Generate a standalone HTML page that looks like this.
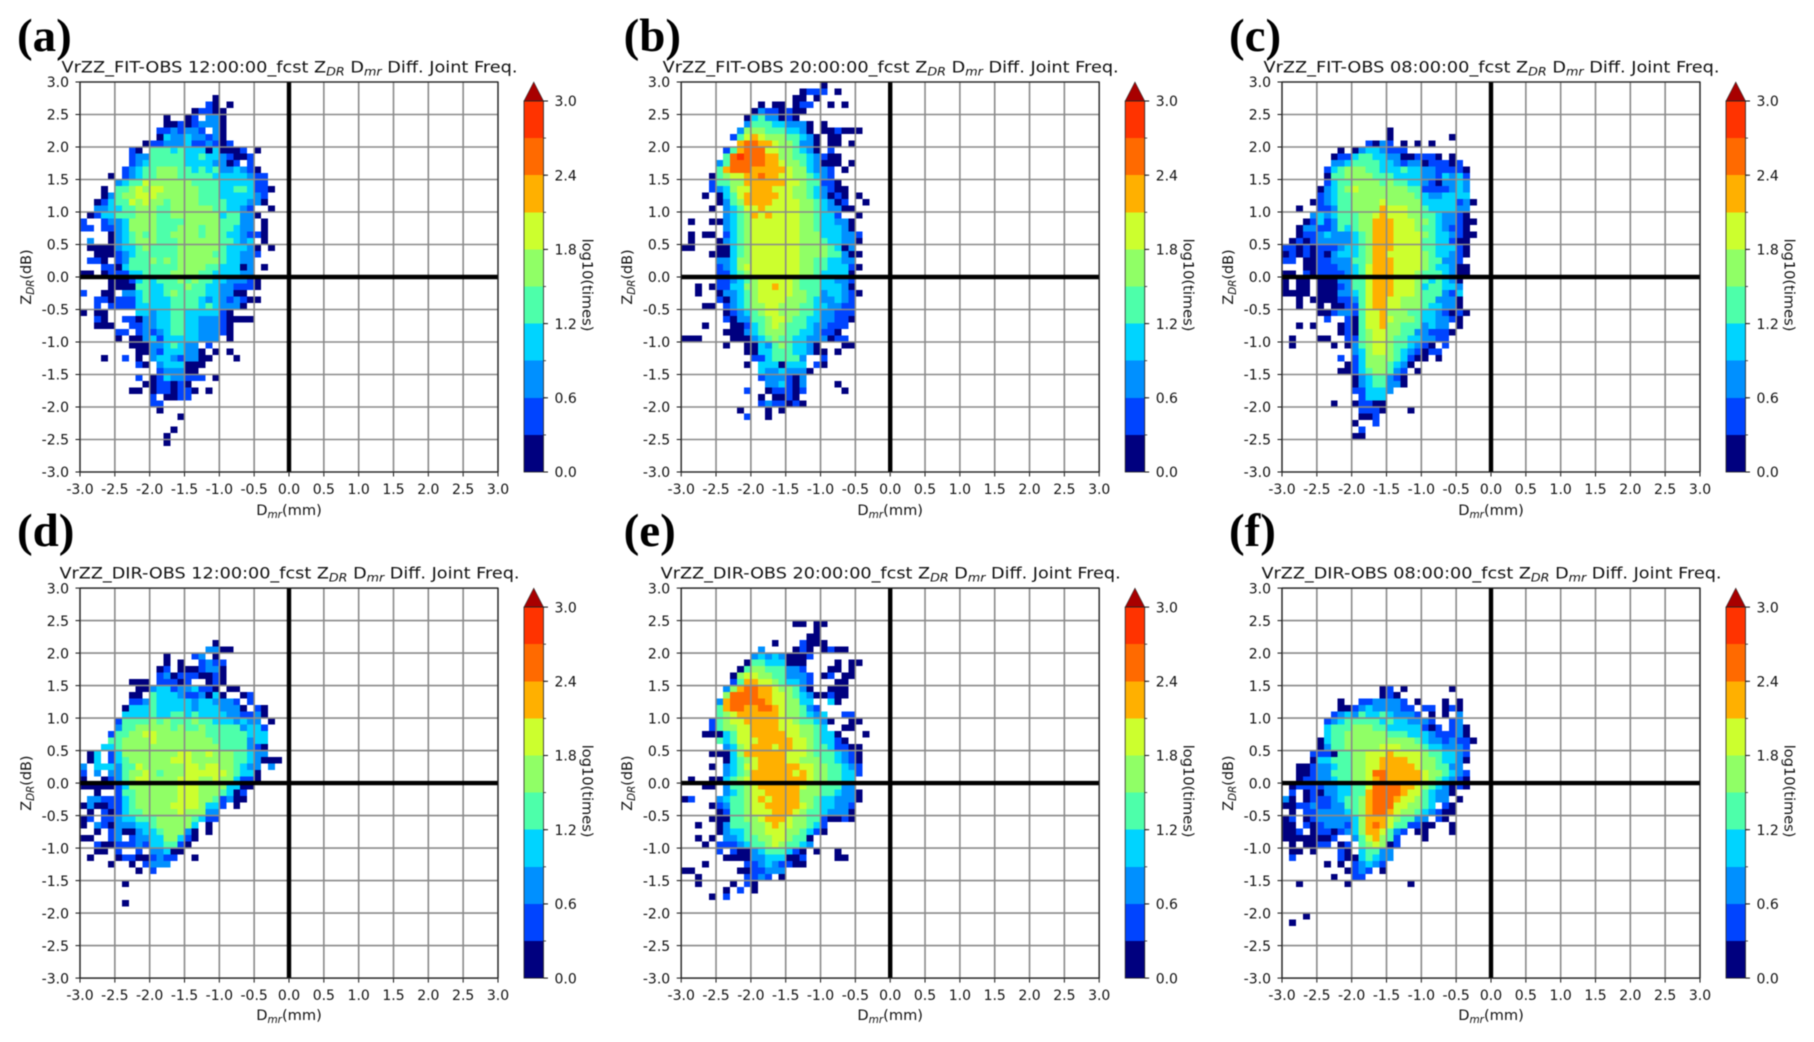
<!DOCTYPE html>
<html lang="en">
<head>
<meta charset="utf-8">
<title>ZDR Dmr Diff. Joint Freq.</title>
<style>
html,body{margin:0;padding:0;background:#fff;width:1814px;height:1042px;overflow:hidden}
svg{display:block;filter:blur(0.6px)}
text{font-family:"DejaVu Sans","Liberation Sans",sans-serif;fill:#111}
.letter{font-family:"Liberation Serif",serif;font-weight:bold;fill:#000}
</style>
</head>
<body>
<svg id="fig" xmlns="http://www.w3.org/2000/svg" width="1814" height="1042" viewBox="0 0 1814 1042"></svg>
<script>
// Axis and colourbar data
const xTickLabels = ["-3.0","-2.5","-2.0","-1.5","-1.0","-0.5","0.0","0.5","1.0","1.5","2.0","2.5","3.0"];
const yTickLabels = ["3.0","2.5","2.0","1.5","1.0","0.5","0.0","-0.5","-1.0","-1.5","-2.0","-2.5","-3.0"];
const colorTickLabels = ["0.0","0.6","1.2","1.8","2.4","3.0"];
const colorBounds = [0,0.3,0.6,0.9,1.2,1.5,1.8,2.1,2.4,2.7,3.0];
const colorBands = ["#00007f","#0044ff","#0090ff","#00d4ff","#4dffaa","#90ff66","#ccff2e","#ffb000","#ff6a00","#ff3300"];
const panelLetters = ["(a)","(b)","(c)","(d)","(e)","(f)"];
const panelModels = ["FIT","FIT","FIT","DIR","DIR","DIR"];
const panelTimes = ["12:00:00","20:00:00","08:00:00","12:00:00","20:00:00","08:00:00"];

// Heatmap cells: rows run from ZDR +3.0 downward in 0.1 dB bins, columns from Dmr -3.0 rightward in 0.1 mm bins.
// Value = colour class: 0 no data, 1 = 0.0-0.3 log10(times) ... 10 = 2.7-3.0 log10(times).
const cellsA = [[],[],
[0,0,0,0,0,0,0,0,0,0,0,0,0,0,0,0,0,0,0,1],
[0,0,0,0,0,0,0,0,0,0,0,0,0,0,0,0,0,0,2,1,0,1],
[0,0,0,0,0,0,0,0,0,0,0,0,0,0,0,0,1,2,2,1,1],
[0,0,0,0,0,0,0,0,0,0,0,0,1,0,0,1,2,0,3,3,1],
[0,0,0,0,0,0,0,0,0,0,0,0,1,1,2,1,2,3,3,3,1],
[0,0,0,0,0,0,0,0,0,0,0,2,2,3,2,3,3,2,0,3,1],
[0,0,0,0,0,0,0,0,0,0,0,1,4,3,3,4,3,3,2,3,1],
[0,0,0,0,0,0,0,0,0,1,2,2,3,3,3,4,2,2,3,2,1,2],
[0,0,0,0,0,0,0,2,1,0,5,5,5,4,5,4,4,4,1,4,1,1,1,2,0,1],
[0,0,0,0,0,0,0,2,3,3,5,5,5,5,5,4,4,5,4,4,3,2,1,1,2],
[0,0,0,0,0,0,0,2,3,4,5,5,5,5,5,4,4,4,4,3,3,1,2,0,2],
[0,0,0,0,0,0,2,3,4,5,5,6,6,6,5,5,4,5,4,5,3,3,4,3,2,1],
[0,0,0,0,1,0,2,3,4,5,5,6,6,6,5,5,5,5,5,4,4,4,4,4,3,2,2],
[0,0,0,0,0,3,4,5,5,7,6,6,6,6,6,6,5,5,5,5,4,4,4,4,4,2,2],
[0,0,0,1,0,5,5,6,7,6,7,7,6,6,6,6,6,5,5,5,4,4,5,5,4,2,2,1],
[0,0,0,1,3,5,6,6,7,7,7,6,6,6,6,6,6,5,5,5,4,4,4,4,4,3,2],
[0,0,1,2,4,5,5,7,6,7,6,6,5,6,6,6,6,5,5,5,5,4,4,4,3,3,1],
[0,0,3,3,4,4,5,5,6,6,6,5,5,6,6,6,6,6,6,5,5,4,4,3,2,0,0,1],
[0,1,2,4,4,5,5,5,6,6,6,5,5,6,6,6,6,6,6,6,4,5,5,3,3,1],
[2,0,0,2,3,3,4,6,6,6,6,5,5,5,5,6,6,6,6,6,5,5,5,3,3,0,1],
[2,2,0,2,2,3,4,6,6,6,6,5,5,5,6,6,6,5,6,6,5,5,4,3,3,0,1],
[0,0,0,0,1,3,4,5,6,5,6,5,5,6,6,6,6,5,6,6,5,4,4,3,2,2,1],
[0,3,0,0,1,3,4,5,6,6,6,5,5,5,6,6,6,6,6,6,5,5,4,3,4,0,1],
[0,1,1,1,1,3,4,4,5,6,5,5,5,5,6,6,6,6,6,6,5,4,4,4,3,1,0,1],
[0,0,1,1,1,2,3,4,5,5,5,5,5,5,6,6,6,6,6,5,5,4,4,3,3,2],
[0,2,2,1,0,2,3,5,5,5,6,5,6,5,6,6,6,6,6,6,5,4,4,3,3],
[0,0,0,2,2,1,4,5,5,5,5,5,5,5,6,6,6,6,5,5,4,4,4,1,3,0,1],
[1,1,0,1,2,2,2,4,4,5,5,5,5,6,6,6,6,5,5,4,4,4,4,3,3],
[0,0,0,0,1,1,1,2,4,5,4,5,5,5,6,5,6,5,5,4,4,3,3,3,2,1],
[0,0,0,0,1,1,1,1,5,5,4,4,5,5,5,6,5,5,4,4,3,3,2,2,2,1],
[2,0,0,1,1,0,3,3,4,5,4,4,5,6,5,5,5,5,4,4,3,3,1,1],
[0,0,2,2,1,2,2,2,4,5,4,4,4,5,5,5,5,4,3,4,3,2,3,2,1,1],
[0,0,2,0,2,2,2,2,4,4,4,4,4,5,5,5,5,4,5,4,3,3,3,1],
[1,0,1,1,0,0,0,0,4,4,3,4,4,5,5,4,4,4,4,4,2,1],
[0,0,2,1,0,0,2,2,1,3,3,4,4,5,5,4,4,3,3,3,2,1,1,1,1],
[0,0,1,1,1,0,0,2,2,3,3,4,4,5,5,4,4,3,3,3,2,1],
[0,0,0,0,0,2,2,0,2,3,2,3,4,5,5,4,4,3,3,3,2,1],
[0,0,0,0,0,1,0,1,1,3,4,2,4,4,4,4,4,3,3,3,0,1],
[0,0,0,0,0,0,0,1,1,1,3,3,4,5,4,3,3,0,2],
[0,0,0,0,0,0,0,0,1,1,3,2,4,4,4,3,3,1,0,1,0,1],
[0,0,0,1,0,0,2,0,1,0,3,4,4,3,2,3,3,1,1,0,0,0,1],
[0,0,0,0,0,0,0,0,2,1,0,3,4,4,4,1,1,1],
[0,0,0,0,0,0,0,0,0,0,0,2,3,3,3,1,1],
[0,0,0,0,0,0,0,0,2,0,1,2,4,3,3,2,2,2,0,1],
[0,0,0,0,0,0,0,0,0,1,1,2,2,1,2,1],
[0,0,0,0,0,0,0,1,1,0,1,2,2,1,2,2,1,0,1],
[0,0,0,0,0,0,0,0,0,0,2,0,1,1,2,2],
[0,0,0,0,0,0,0,0,0,0,2,2],
[0,0,0,0,0,0,0,0,0,0,0,1],
[0,0,0,0,0,0,0,0,0,0,0,0,0,0,1],
[],
[0,0,0,0,0,0,0,0,0,0,0,0,0,1],
[0,0,0,0,0,0,0,0,0,0,0,0,1],
[0,0,0,0,0,0,0,0,0,0,0,0,1]];

const cellsB = [
[0,0,0,0,0,0,0,0,0,0,0,0,0,0,0,0,0,0,0,0,1],
[0,0,0,0,0,0,0,0,0,0,0,0,0,0,0,0,0,1,2,2,2,0,1],
[0,0,0,0,0,0,0,0,0,0,0,0,0,0,0,0,1,1,0,1],
[0,0,0,0,0,0,0,0,0,0,0,1,0,1,1,0,1,2,2,0,0,1,0,1],
[0,0,0,0,0,0,0,0,0,0,1,3,2,2,1,2,1,1],
[0,0,0,0,0,0,0,0,0,1,4,5,3,3,1,2,1],
[0,0,0,0,0,0,0,0,0,3,5,5,5,4,4,3,3,3,1,0,1],
[0,0,0,0,0,0,0,0,3,6,6,6,5,5,5,4,4,3,1,0,1,1,2,1,1,1],
[0,0,0,0,0,0,0,2,5,7,8,7,6,6,6,5,5,4,3,1,0,1,1],
[0,0,0,0,0,0,0,0,8,9,9,8,8,7,6,6,5,3,3,1,0,1,1,0,1],
[0,0,0,0,0,0,2,5,8,9,9,9,7,7,6,6,5,4,3,1,0,2],
[0,0,0,0,0,0,5,9,10,9,9,9,8,8,6,6,5,5,4,3,2,1,1],
[0,0,0,0,0,3,5,9,9,9,9,9,8,8,7,6,6,5,4,3,1,1,1,0,1],
[0,0,0,0,0,5,8,9,9,9,8,8,8,8,8,7,6,6,4,3,3,2,0,1],
[0,0,0,0,1,5,6,7,7,8,8,9,8,8,7,7,6,6,5,4,3,2],
[0,0,0,0,2,5,5,6,6,8,8,8,8,8,8,7,7,6,5,5,2,2,1],
[0,0,0,0,2,3,4,6,7,7,8,8,8,7,7,7,6,6,5,4,3,2,1,1],
[0,0,0,1,0,1,4,5,7,8,8,8,8,8,7,7,6,6,5,4,3,1,2,1,0,1],
[0,0,0,0,0,1,3,5,6,8,8,8,8,7,7,7,7,6,6,5,4,3,1,2,0,0,1],
[0,0,0,0,1,0,3,4,5,7,7,8,7,7,7,7,7,6,6,5,4,3,3,1,1],
[0,0,0,0,0,0,3,4,5,6,8,7,8,7,7,7,7,6,6,5,4,4,2,0,0,1],
[0,1,0,0,1,1,3,4,5,6,7,7,7,7,7,7,7,6,6,5,4,4,3,3,1],
[0,0,0,0,0,0,3,4,5,6,7,7,7,7,7,7,7,6,6,5,4,4,4,3,1],
[0,1,0,1,1,0,2,4,5,6,7,7,7,7,7,7,7,6,6,6,4,4,4,3,3,2],
[0,1,0,0,0,1,3,4,5,6,7,7,7,7,7,7,7,6,6,6,5,4,4,3,3,1],
[1,1,0,0,0,1,1,4,5,6,7,7,7,7,7,7,7,6,6,6,6,5,4,1,3],
[0,0,0,0,1,1,1,4,5,6,7,7,7,7,7,7,7,6,6,6,6,5,5,3,1,1],
[0,0,0,0,0,3,3,4,6,6,7,7,7,7,7,7,7,6,6,5,5,4,4,3,3],
[0,0,0,0,0,2,3,4,6,7,7,7,7,7,7,7,7,6,6,5,5,4,4,4,2,1],
[0,0,0,0,0,2,2,4,5,6,7,7,7,7,7,7,7,6,6,5,4,4,4,4,1],
[0,0,0,0,0,2,2,3,4,5,6,7,7,7,7,7,6,5,5,5,4,4,3,3,2],
[0,0,1,0,1,2,2,4,4,6,6,7,7,8,7,7,6,5,5,5,4,4,4,3,1],
[0,0,1,0,0,1,3,3,4,5,6,7,7,7,7,7,6,6,5,5,3,4,4,3,2,1],
[0,0,0,0,0,2,1,3,4,5,6,7,7,7,7,6,6,6,5,4,3,3,4,3,2],
[0,0,0,1,1,0,2,3,4,5,6,6,7,7,6,6,6,5,5,4,4,3,3,2,2],
[0,0,0,0,0,0,1,2,3,4,5,6,7,7,6,6,6,5,5,4,3,3,2,2,2],
[0,0,0,0,0,0,2,1,3,3,5,5,6,7,7,6,5,5,4,4,3,3,2,2,1],
[0,0,0,1,0,0,0,1,1,2,4,5,6,7,6,5,5,5,4,3,3,2,2,2],
[0,0,0,0,0,0,1,1,1,3,4,5,6,6,6,5,5,4,4,3,2,2,1],
[1,1,1,0,0,0,0,1,1,1,3,4,5,6,5,5,4,4,3,3,3,1,2,2],
[0,0,0,0,0,0,1,0,0,1,1,4,3,5,6,5,4,4,3,1,0,0,0,1,1],
[0,0,0,0,0,0,0,0,0,1,1,4,4,5,5,5,4,4,3,1,1,0,1],
[0,0,0,0,0,0,0,0,0,0,2,2,4,5,5,5,5,3,0,0,2],
[0,0,0,0,0,0,0,0,0,1,0,4,4,4,1,4,4,4,0,2,1],
[0,0,0,0,0,0,0,0,0,0,0,4,3,3,4,3,3,3,1],
[0,0,0,0,0,0,0,0,0,0,0,2,3,3,3,2,1,3],
[0,0,0,0,0,0,0,0,0,0,0,0,3,3,4,2,1,3,0,0,0,0,1],
[0,0,0,0,0,0,0,0,0,2,0,0,1,2,2,2,1,2,0,0,0,0,0,1],
[0,0,0,0,0,0,0,0,0,0,0,1,0,1,1,2,1],
[0,0,0,0,0,0,0,0,0,0,0,2,3,2,2,1,2,1],
[0,0,0,0,0,0,0,0,1,0,0,0,1,0,1],
[0,0,0,0,0,0,0,0,0,2,0,0,1]];

const cellsC = [[],[],[],[],[],[],[],
[0,0,0,0,0,0,0,0,0,0,0,0,0,0,0,1],
[0,0,0,0,0,0,0,0,0,0,0,0,0,0,0,1,0,0,0,0,0,0,0,0,1],
[0,0,0,0,0,0,0,0,0,0,0,0,2,1,3,2,0,1,0,1,0,1],
[0,0,0,0,0,0,0,0,1,0,1,3,4,4,3,2,2,2],
[0,0,0,0,0,0,0,1,2,2,4,5,5,4,4,3,3,1,1,2,2,2,1,0,1],
[0,0,0,0,0,0,0,3,3,4,5,5,5,5,4,4,3,2,3,3,1,2,2,2,1,2],
[0,0,0,0,0,0,2,4,5,6,6,6,5,5,4,4,4,5,4,4,3,3,2,2,2,2,1],
[0,0,0,0,0,0,1,5,5,6,6,6,6,5,5,5,4,4,4,4,3,3,2,4,3,4,2],
[0,0,0,0,0,0,2,4,5,5,6,6,6,6,5,6,5,5,4,4,3,2,1,3,3,4,3],
[0,0,0,0,0,1,3,4,5,6,7,6,6,6,6,6,6,6,5,5,2,2,2,2,3,4,3],
[0,0,0,0,0,2,3,4,5,5,6,6,6,6,6,6,6,6,6,5,4,3,3,4,4,4,4],
[0,0,0,0,1,2,3,4,5,5,6,6,6,6,7,6,6,6,6,6,4,4,4,4,4,2,3,1],
[0,0,1,0,0,2,2,3,5,5,6,6,6,6,8,7,7,7,6,6,5,4,4,4,4,3,3],
[0,0,0,0,3,4,3,4,5,5,5,6,6,7,8,7,7,7,6,6,5,5,4,3,3,2,1],
[0,0,0,1,2,4,2,3,5,5,5,6,6,8,8,8,7,7,7,6,6,5,4,3,3,2,1,1],
[0,0,1,3,3,2,2,3,5,4,5,6,6,8,8,8,7,7,7,6,5,5,4,3,2,2,1],
[0,0,1,2,2,3,4,3,3,3,4,5,6,8,8,8,7,7,7,7,6,5,4,4,3,2,1,1],
[0,1,2,1,2,3,3,3,3,3,4,5,6,8,8,8,7,7,7,7,5,5,4,4,2,1,1],
[2,2,1,2,1,2,2,2,3,4,4,5,6,8,8,8,7,7,7,7,5,5,4,4,4,2,1],
[1,2,1,2,1,2,1,3,4,4,4,5,6,8,8,7,7,7,7,7,6,5,4,4,3,2,1],
[2,2,0,1,1,2,2,3,3,3,5,5,6,8,8,8,7,7,7,7,6,5,5,3,3,2],
[0,0,0,1,1,2,2,2,3,3,4,5,7,8,8,8,7,7,7,7,6,5,4,4,3,1,1],
[1,1,0,2,1,2,2,2,2,3,4,5,7,8,8,8,7,7,7,6,5,5,5,4,3,1,1],
[1,0,1,1,0,1,1,1,3,3,5,5,7,8,8,8,7,7,7,6,5,4,5,4,3,1],
[1,0,1,1,0,1,1,1,2,3,5,5,7,8,8,8,7,7,7,6,4,5,5,4,4,3],
[1,1,1,1,0,1,1,1,3,3,4,5,7,8,8,8,7,7,7,6,5,5,5,3,2,4],
[0,0,1,0,1,1,1,1,2,2,3,5,7,8,8,7,7,6,6,6,5,5,3,3,3,1],
[0,0,1,0,0,1,0,1,1,2,2,5,7,8,8,7,7,6,6,6,5,4,4,3,3,1],
[0,0,0,0,0,1,1,2,3,3,2,5,7,7,8,6,6,6,5,5,4,4,3,2,1,2,1],
[0,0,0,0,0,0,2,0,0,2,1,5,7,7,8,7,6,6,6,5,4,4,3,3,2,1],
[0,0,1,0,1,0,0,0,1,2,1,5,7,7,8,6,6,5,5,5,3,4,3,3,0,1],
[0,0,0,0,0,0,0,0,1,2,1,5,6,7,7,6,6,5,5,3,3,2,2,2,1],
[0,1,0,0,0,1,1,0,0,2,2,5,6,7,7,6,5,5,4,4,3,3,2,2],
[0,1,0,0,0,0,0,1,0,1,3,5,6,7,7,6,5,5,4,3,2,1,0,2],
[0,0,0,0,0,0,0,0,0,0,3,4,6,7,7,6,5,4,3,2,1,2,2],
[0,0,0,0,0,0,0,0,2,0,2,4,6,6,6,6,5,4,2,1,1,0,1],
[0,0,0,0,0,0,0,0,0,1,2,4,6,6,6,5,4,3,1],
[0,0,0,0,0,0,0,0,1,1,2,4,5,6,6,5,3,2,0,1],
[0,0,0,0,0,0,0,0,0,0,1,3,4,5,5,3,2,1],
[0,0,0,0,0,0,0,0,0,0,1,3,4,5,5,3,3,1],
[0,0,0,0,0,0,0,0,0,0,2,2,4,4,4,3],
[0,0,0,0,0,0,0,0,0,0,0,2,4,4,4],
[0,0,0,0,0,0,0,1,0,0,1,2,2,1,1],
[0,0,0,0,0,0,0,0,0,0,0,2,2,2,1,0,0,0,1],
[0,0,0,0,0,0,0,0,0,0,0,1,1,2],
[0,0,0,0,0,0,0,0,0,0,1,0,0,2],
[0,0,0,0,0,0,0,0,0,0,0,2],
[0,0,0,0,0,0,0,0,0,0,1,1]];

const cellsD = [[],[],[],[],[],[],[],[],
[0,0,0,0,0,0,0,0,0,0,0,0,0,0,0,0,0,0,0,1],
[0,0,0,0,0,0,0,0,0,0,0,0,0,0,0,0,0,0,3,3,1,1],
[0,0,0,0,0,0,0,0,0,0,0,0,1,0,0,0,2,3,0,1],
[0,0,0,0,0,0,0,0,0,0,0,0,1,0,1,0,0,2,3,2,2],
[0,0,0,0,0,0,0,0,0,0,0,1,2,0,1,1,1,2,3,3,1],
[0,0,0,0,0,0,0,0,0,0,0,2,3,1,2,2,2,1,1,2,1],
[0,0,0,0,0,0,0,1,1,1,0,2,2,2,1,2,0,0,1,2,1],
[0,0,0,0,0,0,0,0,1,1,3,4,4,2,3,3,4,2,2,1,0,1,1],
[0,0,0,0,0,0,0,1,1,0,5,4,4,4,3,2,2,3,1,4,1,0,0,1,2],
[0,0,0,0,0,0,0,2,2,3,5,4,4,4,4,4,3,4,4,3,3,3,2,0,2],
[0,0,0,0,0,0,1,4,4,4,5,4,4,4,4,4,3,4,4,4,3,3,3,1,0,2,1],
[0,0,0,0,0,0,4,4,4,4,5,4,4,5,5,4,5,4,4,4,4,3,3,2,2,3,1],
[0,0,0,0,0,2,5,5,5,5,6,5,6,5,5,5,6,5,5,4,4,4,3,4,3,3,0,1],
[0,0,0,0,0,3,5,5,6,6,6,6,6,5,6,5,5,6,5,5,5,5,5,3,4,4,2],
[0,0,0,0,2,5,5,6,6,7,7,6,6,6,6,6,6,6,5,5,5,5,5,5,4,4,4],
[0,0,0,0,5,5,6,6,6,6,7,6,6,6,6,6,6,6,6,5,5,5,5,5,3,4,4],
[0,0,0,4,4,5,6,6,6,6,6,6,6,6,6,6,6,6,6,6,5,5,5,5,3,2,1],
[0,1,4,0,2,4,6,6,6,6,6,6,6,6,7,7,6,6,7,6,6,6,5,5,4,3,3],
[0,1,4,0,2,4,5,6,6,6,6,6,6,7,7,7,6,6,6,6,6,6,5,5,4,3,1,1,1],
[3,0,4,4,4,3,5,5,7,6,6,6,6,6,6,7,7,6,7,7,6,6,5,4,3,3,0,3],
[2,0,3,0,3,3,5,6,6,7,6,5,6,6,6,7,7,7,7,7,7,6,5,4,4,1],
[1,0,0,1,2,3,5,6,7,7,6,6,6,6,7,7,7,6,6,7,6,6,4,2,2,1],
[1,1,1,1,1,2,4,6,6,6,6,6,6,6,7,7,7,6,6,6,6,4,4,1,1],
[0,0,1,0,0,2,5,5,6,6,6,6,6,6,7,7,7,6,6,6,5,4,1,2],
[0,3,3,2,2,2,4,5,6,6,6,6,6,6,7,7,7,6,6,5,2,3,1,1],
[1,3,1,1,2,2,4,5,6,6,6,6,6,7,7,7,7,6,4,4,2,0,1],
[0,1,0,2,1,2,4,5,5,6,6,6,6,6,7,6,6,6,3,3],
[1,2,0,2,2,3,4,4,5,5,5,6,6,6,6,6,5,4,2,2],
[1,0,3,2,1,3,3,3,4,4,5,6,6,6,6,6,4,0,1],
[0,0,1,0,2,3,1,1,3,4,4,5,6,6,6,3,1,0,1],
[1,1,0,0,2,3,0,2,3,3,4,4,6,6,4,2,1],
[0,0,2,1,1,2,2,2,3,2,4,4,5,5,2,1],
[0,0,1,1,0,2,0,0,2,0,3,3,4,1,1],
[0,1,0,0,0,1,2,2,1,1,2,3,2,2,0,0,1],
[0,0,0,0,1,0,0,1,0,2,3,3,3],
[0,0,0,0,0,0,0,0,1,0,2],
[],
[0,0,0,0,0,0,1],
[],[],
[0,0,0,0,0,0,1]];

const cellsE = [[],[],[],[],[],
[0,0,0,0,0,0,0,0,0,0,0,0,0,0,0,0,1,1,0,1,1],
[0,0,0,0,0,0,0,0,0,0,0,0,0,0,0,0,0,0,0,1],
[0,0,0,0,0,0,0,0,0,0,0,0,0,0,0,0,0,0,1,1],
[0,0,0,0,0,0,0,0,0,0,0,0,0,1,0,0,0,2,1,1,1],
[0,0,0,0,0,0,0,0,0,0,0,3,0,0,0,0,1,2,1,0,1,2,1,1],
[0,0,0,0,0,0,0,0,0,0,3,4,3,4,3,1,1,1,2],
[0,0,0,0,0,0,0,0,0,1,5,5,4,4,4,1,1,1,0,0,0,0,1,0,1,1],
[0,0,0,0,0,0,0,0,1,5,6,6,5,5,5,3,3,2,0,0,0,1,1,0,1],
[0,0,0,0,0,0,0,1,6,7,7,6,6,5,5,3,3,3,2,0,1,2,0,1,1],
[0,0,0,0,0,0,0,2,5,8,8,7,7,6,5,4,4,3,2,0,0,0,1,1],
[0,0,0,0,0,0,3,6,8,9,9,8,8,7,6,6,5,3,1,0,0,1,1,1],
[0,0,0,0,0,0,6,9,9,9,9,8,8,7,7,6,5,4,3,1,1,2,1,1],
[0,0,0,0,0,3,8,9,9,9,9,9,8,7,7,6,6,4,4,0,0,4,1],
[0,0,0,0,0,5,8,9,9,8,8,9,9,8,7,6,6,5,3,2],
[0,0,0,0,0,5,6,7,8,8,8,8,8,8,7,6,6,5,4,3,4,0,0,2,2],
[0,0,0,0,2,5,6,7,7,8,8,8,8,8,7,7,6,5,5,4,3,1,0,0,1,1],
[0,0,0,0,2,5,6,6,7,7,8,8,8,8,7,7,7,6,6,5,4,0,0,1,1],
[0,0,0,1,1,1,4,5,7,7,8,8,8,8,8,7,7,6,6,5,4,4,1,0,0,0,1],
[0,0,0,0,0,5,4,5,7,7,7,8,8,8,8,8,7,7,6,5,4,4,2,1],
[0,0,0,0,0,0,3,4,6,7,8,8,8,7,8,8,7,7,6,5,5,4,2,2,1,1],
[0,0,0,0,1,1,1,4,6,8,8,8,8,8,8,7,7,7,6,5,5,5,4,3,2,1],
[0,0,0,0,0,0,1,4,5,6,7,8,8,8,8,7,7,6,6,6,5,5,4,3,2,1],
[0,0,0,0,1,0,3,4,5,7,7,8,8,8,8,8,8,7,7,6,6,5,5,4,3,2],
[0,0,0,0,0,0,3,4,5,6,8,8,8,8,8,8,7,8,7,6,6,5,5,4,4,2],
[0,1,0,0,1,1,4,5,6,7,8,8,8,8,8,8,8,8,7,6,6,5,5,4,4],
[0,0,0,1,1,0,3,5,5,6,7,8,8,8,8,8,8,7,6,6,5,5,5,3,3],
[0,0,0,0,0,0,3,4,5,6,7,7,8,8,8,8,8,6,6,6,5,5,4,3,3,1],
[1,2,0,0,0,3,4,5,5,6,7,8,7,8,8,8,8,6,6,5,4,4,3,3,3,1],
[0,0,0,0,1,2,3,5,5,6,7,7,8,8,8,8,8,7,6,5,4,4,3,3,2],
[0,0,0,0,0,1,2,5,5,6,7,7,7,8,8,8,7,6,5,5,4,3,3,3,1],
[0,0,0,0,1,1,1,5,5,6,6,7,8,8,8,7,6,6,5,5,2,1,1,2,1],
[0,0,1,0,0,1,3,5,5,5,6,6,7,8,7,7,6,6,5,4,2],
[0,0,0,0,0,1,3,4,4,5,6,6,7,7,7,6,6,5,4,2,1],
[0,0,1,0,1,0,3,3,4,5,5,6,6,7,7,6,5,5,1],
[0,0,0,1,0,2,2,2,3,4,5,5,6,7,6,5,5,4,3],
[0,0,0,0,0,2,0,2,1,1,3,4,5,5,5,4,2,1,0,1,0,0,1],
[0,0,0,0,0,0,1,1,1,1,3,3,4,4,4,1,1,2,0,0,0,0,1,1],
[0,0,0,1,0,0,0,0,0,2,2,3,4,3,2,2,1,1],
[1,1,0,0,0,0,0,0,1,1,2,2,3,3,3],
[0,0,1,0,0,0,0,0,0,2,2,3,2,0,1],
[0,0,1,0,0,0,0,1,0,2,1],
[0,0,0,0,0,0,1,0,2,0,1],
[0,0,0,0,1,0,2]];

const cellsF = [[],[],[],[],[],[],[],[],[],[],[],[],[],[],[],
[0,0,0,0,0,0,0,0,0,0,0,0,0,0,1,2,0,1,0,0,0,0,0,0,1],
[0,0,0,0,0,0,0,0,0,0,0,0,0,0,1,2,1],
[0,0,0,0,0,0,0,0,1,0,0,2,2,3,3,3,3,2,0,1,0,0,0,1,0,1],
[0,0,0,0,0,0,0,0,1,1,2,3,4,3,3,3,3,2,2,0,2,2,0,1,2,1],
[0,0,0,0,0,0,0,2,3,4,3,5,4,4,5,4,3,3,3,2,0,1,0,1,0,3],
[0,0,0,0,0,0,2,3,4,5,5,5,5,5,4,5,4,4,3,3,3,2,0,0,2,3],
[0,0,0,0,0,0,4,5,5,5,6,6,6,5,5,4,4,4,4,4,2,1,2,0,2,3,1],
[0,0,0,0,0,0,4,5,5,6,6,6,6,6,6,5,5,5,4,4,4,3,2,2,2,3,1],
[0,0,0,0,0,1,4,5,5,6,6,6,6,6,6,6,6,6,6,5,4,3,3,2,3,2,2,1],
[0,0,0,0,0,1,3,5,5,6,6,6,6,6,7,7,7,6,6,6,5,4,4,3,3,3,2],
[0,0,0,0,2,2,2,1,5,5,6,6,7,7,7,8,7,7,7,7,6,5,5,4,4,3,2],
[0,0,0,0,1,4,4,5,5,5,6,6,7,7,8,8,8,8,7,7,6,6,5,4,4,3,1],
[0,0,1,1,2,3,3,4,5,5,6,6,7,7,8,8,8,8,8,7,6,6,5,5,3,3],
[0,0,1,1,2,3,3,5,5,5,6,6,7,9,9,8,8,8,8,8,7,6,6,5,4,3,2],
[0,0,1,2,2,3,3,4,5,5,6,6,7,8,9,8,8,8,8,8,7,6,5,4,3,2,1],
[0,1,2,2,2,2,3,3,4,4,5,5,7,9,9,9,9,8,8,7,6,5,4,3,1,2,1],
[0,2,0,1,2,1,3,3,4,4,5,5,8,9,9,9,9,8,7,7,5,4,3,3,1],
[3,1,0,1,2,2,2,3,4,5,5,6,8,9,9,9,8,7,7,6,5,4,3,3,0,1],
[1,1,2,2,3,2,2,3,3,5,5,6,8,9,9,9,7,7,6,6,5,4,0,2,1],
[0,1,0,2,2,3,3,3,3,4,5,6,8,9,9,8,7,6,6,5,4,3,2,1,1],
[1,2,0,1,2,3,3,3,3,3,4,6,8,8,8,7,6,5,5,3,3,0,2,1],
[1,1,0,2,1,2,3,3,3,2,4,6,8,9,8,7,5,5,2,2,1,1,0,0,1],
[1,1,2,0,1,2,2,1,2,3,4,6,8,8,7,5,3,2,0,1,1,0,0,0,1],
[1,1,1,1,1,1,1,2,0,0,3,5,7,8,6,5,2,0,0,0,1],
[0,1,0,1,1,2,2,0,1,2,0,5,6,7,6,1,2],
[0,1,1,0,1,0,0,0,2,1,0,4,5,5,3,3],
[0,2,0,0,0,0,0,0,2,1,1,4,5,4,3,3],
[0,0,0,0,0,0,1,0,1,0,2,3,4,3,2],
[0,0,0,0,0,0,0,0,0,1,2,3,2,0,1],
[0,0,0,0,0,0,0,1,0,0,2,2],
[0,0,1,0,0,0,0,0,0,1,0,0,0,0,0,0,0,0,1],
[],[],[],[],
[0,0,0,1],
[0,1]];

const panelCells = [cellsA, cellsB, cellsC, cellsD, cellsE, cellsF];

// Layout constants (pixels)
const colLeft = [80, 681.2, 1282];
const rowTop = [82, 588.1];
const axW = 418, axH = 390;
const letterX = [17, 623.6, 1229];
const letterBaseline = [51, 546];
const xTitleOffset = [43, 42];
const xMin = -3, xMax = 3, yMin = -3, yMax = 3, binSize = 0.1;
const NS = 'http://www.w3.org/2000/svg';
const fig = document.getElementById('fig');

function make(tag, parent, attrs) {
  const n = document.createElementNS(NS, tag);
  for (const k in attrs) n.setAttribute(k, attrs[k]);
  parent.appendChild(n);
  return n;
}
function addRich(node, parts) {
  let lowered = false;
  parts.forEach(function (p) {
    const t = make('tspan', node, {});
    if (p[1]) {
      t.setAttribute('font-size', '72%');
      t.setAttribute('font-style', 'italic');
      t.setAttribute('dy', '3');
      lowered = true;
    } else if (lowered) {
      t.setAttribute('dy', '-3');
      lowered = false;
    }
    t.textContent = p[0];
  });
}

panelCells.forEach(function (cells, idx) {
  const col = idx % 3, row = Math.floor(idx / 3);
  const left = colLeft[col], top = rowTop[row];
  const xs = function (v) { return left + (v - xMin) / (xMax - xMin) * axW; };
  const ys = function (v) { return top + (yMax - v) / (yMax - yMin) * axH; };
  const cbLeft = left + 444, cbW = 19.5, cbBottom = top + axH, cbTop = top + 19;
  const cs = function (v) { return cbBottom - v / 3 * (cbBottom - cbTop); };

  const g = make('g', fig, {});
  
  

  const letter = make('text', g, {x: letterX[col], y: letterBaseline[row], 'font-size': 47, class: 'letter'});
  letter.textContent = panelLetters[idx];
  
  

  const title = make('text', g, {x: left + axW / 2 + 0.5, y: top - 9.5, 'font-size': 16, 'text-anchor': 'middle', textLength: panelModels[idx] === 'FIT' ? 456 : 460, lengthAdjust: 'spacingAndGlyphs'});
  addRich(title, [['VrZZ_' + panelModels[idx] + '-OBS ' + panelTimes[idx] + '_fcst Z'], ['DR', 1], [' D'], ['mr', 1], [' Diff. Joint Freq.']]);
  
  

  // Heatmap cells
  const heat = make('g', g, {'shape-rendering': 'crispEdges'});
  
  
  cells.forEach(function (rowVals, r) {
    rowVals.forEach(function (v, c) {
      if (!v) return;
      const zdrTop = yMax - r * binSize, dmrLeft = xMin + c * binSize;
      const x0 = xs(dmrLeft), x1 = xs(dmrLeft + binSize), y0 = ys(zdrTop), y1 = ys(zdrTop - binSize);
      const cell = make('rect', heat, {x: x0, y: y0, width: x1 - x0, height: y1 - y0, fill: colorBands[Math.min(v, colorBands.length) - 1]});
      
      
    });
  });

  // Grid
  xTickLabels.forEach(function (lab) {
    const v = parseFloat(lab), X = xs(v);
    const line = make('line', g, {x1: X, x2: X, y1: top, y2: top + axH, stroke: '#8a8a8a', 'stroke-width': 1.6});
    
    
    const tick = make('line', g, {x1: X, x2: X, y1: top + axH, y2: top + axH + 4.5, stroke: '#111', 'stroke-width': 1});
    
    
    const t = make('text', g, {x: X, y: top + axH + 22, 'font-size': 14, 'text-anchor': 'middle'});
    t.textContent = lab;
    
    
  });
  yTickLabels.forEach(function (lab) {
    const v = parseFloat(lab), Y = ys(v);
    const line = make('line', g, {x1: left, x2: left + axW, y1: Y, y2: Y, stroke: '#8a8a8a', 'stroke-width': 1.6});
    
    
    const tick = make('line', g, {x1: left - 4.5, x2: left, y1: Y, y2: Y, stroke: '#111', 'stroke-width': 1});
    
    
    const t = make('text', g, {x: left - 11, y: Y + 5.2, 'font-size': 14, 'text-anchor': 'end'});
    t.textContent = lab;
    
    
  });

  // Zero lines and frame
  const zeroV = make('line', g, {x1: xs(0), x2: xs(0), y1: top, y2: top + axH, stroke: '#000', 'stroke-width': 4.4});
  
  
  const zeroH = make('line', g, {x1: left, x2: left + axW, y1: ys(0), y2: ys(0), stroke: '#000', 'stroke-width': 4.4});
  
  
  const frame = make('rect', g, {x: left, y: top, width: axW, height: axH, fill: 'none', stroke: '#222', 'stroke-width': 1.2});
  
  

  const xTitle = make('text', g, {x: left + axW / 2, y: top + axH + xTitleOffset[row], 'font-size': 14.6, 'text-anchor': 'middle'});
  addRich(xTitle, [['D'], ['mr', 1], ['(mm)']]);
  
  

  const yTitle = make('text', g, {x: 0, y: 0, 'font-size': 14.4, 'text-anchor': 'middle', transform: 'translate(' + (left - 49) + ' ' + (top + axH / 2) + ') rotate(-90)'});
  addRich(yTitle, [['Z'], ['DR', 1], ['(dB)']]);
  
  

  // Colourbar
  const cb = make('g', g, {});
  
  
  colorBands.forEach(function (color, i) {
    const yT = cs(colorBounds[i + 1]), yB = cs(colorBounds[i]);
    const seg = make('rect', cb, {x: cbLeft, y: yT, width: cbW, height: yB - yT, fill: color, 'shape-rendering': 'crispEdges'});
    
    
    const minor = make('line', cb, {x1: cbLeft + cbW, x2: cbLeft + cbW + 2.5, y1: yB, y2: yB, stroke: '#222', 'stroke-width': 0.8});
    
    
  });
  const arrow = make('polygon', cb, {points: cbLeft + ',' + cbTop + ' ' + (cbLeft + cbW) + ',' + cbTop + ' ' + (cbLeft + cbW / 2) + ',' + top, fill: '#a80000', stroke: '#333', 'stroke-width': 0.6});
  
  
  const cbFrame = make('rect', cb, {x: cbLeft, y: cbTop, width: cbW, height: cbBottom - cbTop, fill: 'none', stroke: '#222', 'stroke-width': 0.8});
  
  
  colorTickLabels.forEach(function (lab) {
    const Y = cs(parseFloat(lab));
    const tick = make('line', cb, {x1: cbLeft + cbW, x2: cbLeft + cbW + 4.5, y1: Y, y2: Y, stroke: '#111', 'stroke-width': 1});
    
    
    const t = make('text', cb, {x: cbLeft + cbW + 11, y: Y + 5.2, 'font-size': 14});
    t.textContent = lab;
    
    
  });
  const cbTitle = make('text', cb, {x: 0, y: 0, 'font-size': 14.6, 'text-anchor': 'middle', transform: 'translate(' + (left + 502.5) + ' ' + (top + 203) + ') rotate(90)'});
  cbTitle.textContent = 'log10(times)';
  
  
});
</script>
</body>
</html>
